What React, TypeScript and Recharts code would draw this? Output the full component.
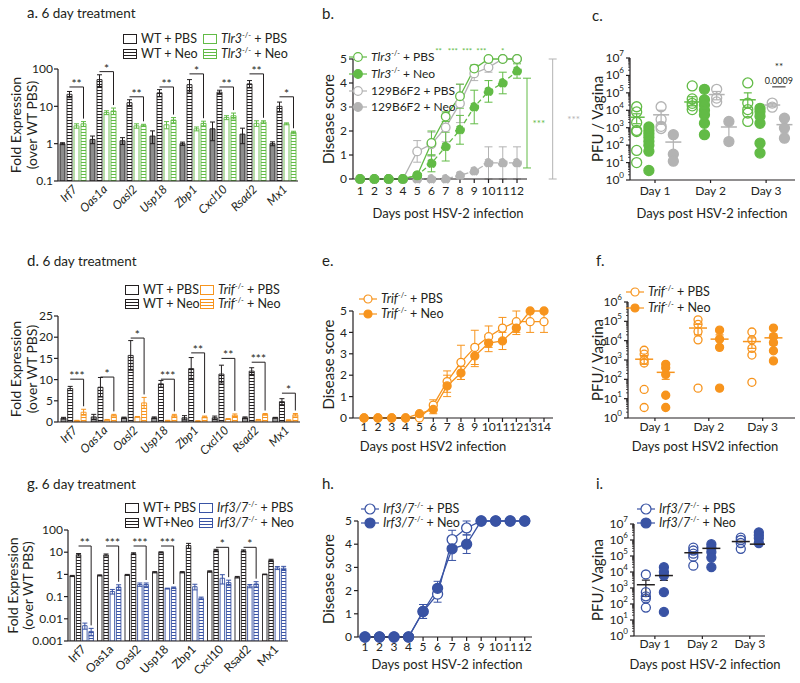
import React from "react";
import {
  BarChart,
  Bar,
  LineChart,
  Line,
  ScatterChart,
  Scatter,
  XAxis,
  YAxis,
  ErrorBar,
  ReferenceLine,
  ReferenceDot,
} from "recharts";

const FONT = "Lato, 'Open Sans', 'DejaVu Sans', sans-serif";
const INK = "#231f20";
const GREEN = "#62bb46";
const GRAY = "#b3b3b3";
const ORANGE = "#f7941d";
const BLUE = "#3953a4";

/* ---------- gene panels (a, d, g) ---------- */
const GENES = ["Irf7", "Oas1a", "Oasl2", "Usp18", "Zbp1", "Cxcl10", "Rsad2", "Mx1"];

// a. Tlr3, log scale
const aWtPbs = [1.0, 1.3, 1.2, 1.6, 1.0, 2.5, 1.8, 1.0];
const aWtPbsErr = [0.06, 0.3, 0.25, 0.6, 0.1, 1.3, 0.8, 0.12];
const aWtNeo = [21, 52, 12.5, 23, 38, 24, 40, 10];
const aWtNeoErr = [4, 18, 2.5, 5, 14, 3, 9, 3];
const aKoPbs = [3.0, 6.8, 3.0, 3.2, 2.5, 5.0, 3.5, 3.4];
const aKoPbsErr = [0.4, 0.8, 0.4, 0.7, 0.3, 0.6, 0.6, 0.2];
const aKoNeo = [3.4, 7.5, 3.1, 4.3, 3.5, 5.6, 3.8, 2.0];
const aKoNeoErr = [0.5, 1.5, 0.2, 0.7, 0.5, 1.0, 0.3, 0.15];
const aSig = ["**", "*", "**", "**", "*", "**", "**", "*"];
const aBracket = [33, 85, 18, 33, 74, 33, 74, 18];

// d. Trif, linear scale
const dWtPbs = [0.9, 1.2, 1.0, 1.0, 1.0, 1.0, 1.0, 1.0];
const dWtPbsErr = [0.2, 0.6, 0.15, 0.2, 0.5, 0.4, 0.2, 0.1];
const dWtNeo = [7.9, 8.2, 15.7, 9.0, 12.6, 11.3, 12.0, 4.8];
const dWtNeoErr = [0.5, 2.3, 3.5, 0.8, 2.6, 2.1, 0.8, 0.7];
const dKoPbs = [0.3, 0.5, 1.2, 0.3, 0.2, 0.7, 0.5, 0.4];
const dKoPbsErr = [0.1, 0.1, 0.1, 0.1, 0.1, 0.1, 0.1, 0.1];
const dKoNeo = [2.3, 1.6, 4.5, 1.5, 1.2, 1.6, 1.8, 1.7];
const dKoNeoErr = [0.7, 0.2, 1.3, 0.3, 0.2, 0.3, 0.2, 0.3];
const dSig = ["***", "*", "*", "***", "**", "**", "***", "*"];
const dBracket = [10.1, 10.6, 19.8, 10.1, 16.3, 15, 14.1, 6.8];

// g. Irf3/7, log scale
const gWtPbs = [0.85, 0.9, 0.95, 1.25, 1.25, 1.35, 0.75, 1.0];
const gWtPbsErr = [0.05, 0.05, 0.05, 0.08, 0.08, 0.1, 0.06, 0.03];
const gWtNeo = [7.7, 7.5, 8.6, 9.8, 20, 12, 11.5, 4.3];
const gWtNeoErr = [1, 0.8, 0.8, 0.6, 5, 1.5, 1.2, 0.5];
const gKoPbs = [0.0049, 0.17, 0.35, 0.23, 0.28, 0.67, 0.3, 1.95];
const gKoPbsErr = [0.0015, 0.04, 0.06, 0.01, 0.08, 0.3, 0.05, 0.3];
const gKoNeo = [0.0027, 0.27, 0.35, 0.25, 0.085, 0.43, 0.37, 1.9];
const gKoNeoErr = [0.001, 0.07, 0.06, 0.02, 0.01, 0.12, 0.1, 0.4];
const gSig = ["**", "***", "***", "***", "", "*", "*", ""];
const gBracket = [19, 19, 19, 19, 0, 16.6, 16.6, 0];

/* ---------- disease score panels (b, e, h) ---------- */
const bDays = [1, 2, 3, 4, 5, 6, 7, 8, 9, 10, 11, 12];
const bKoPbs = [0, 0, 0, 0, 0.15, 1.5, 2.6, 3.45, 4.6, 5, 5, 5];
const bKoPbsErr = [0, 0, 0, 0, 0, 0.5, 0.2, 0.5, 0.15, 0, 0, 0];
const bKoNeo = [0, 0, 0, 0, 0.15, 0.65, 1.35, 2.05, 3.0, 3.65, 4.0, 4.5];
const bKoNeoErr = [0, 0, 0, 0, 0, 0.35, 0.6, 0.6, 0.7, 0.45, 0.45, 0.3];
const bWtPbs = [0, 0, 0, 0, 1.15, 1.45, 2.15, 3.15, 4.4, 4.65, 5, 5];
const bWtPbsErr = [0, 0, 0, 0, 0.45, 0.5, 0.6, 0.8, 0.3, 0.2, 0, 0];
const bWtNeo = [0, 0, 0, 0, 0, 0, 0, 0.15, 0.33, 0.67, 0.67, 0.67];
const bWtNeoErr = [0, 0, 0, 0, 0, 0, 0, 0, 0, 0.67, 0.67, 0.67];
const bSigDays = [6.5, 7.5, 8.5, 9.5, 11];
const bSigText = ["**", "***", "***", "***", "*"];

const eDays = [1, 2, 3, 4, 5, 6, 7, 8, 9, 10, 11, 12, 13, 14];
const eKoPbs = [0, 0, 0, 0, 0, 0.6, 1.7, 2.6, 3.3, 3.8, 4.2, 4.5, 4.5, 4.5];
const eKoPbsErr = [0, 0, 0, 0, 0, 0.25, 0.5, 0.8, 0.8, 0.5, 0.5, 0.5, 0.5, 0.5];
const eKoNeo = [0, 0, 0, 0, 0.2, 0.4, 1.5, 2.1, 2.9, 3.5, 3.6, 4.2, 5, 5];
const eKoNeoErr = [0, 0, 0, 0, 0, 0.2, 0.5, 0.3, 0.5, 0.4, 0.4, 0.3, 0, 0];

const hDays = [1, 2, 3, 4, 5, 6, 7, 8, 9, 10, 11, 12];
const hKoPbs = [0, 0, 0, 0, 1.1, 1.85, 4.2, 4.7, 5, 5, 5, 5];
const hKoPbsErr = [0, 0, 0, 0, 0.3, 0.35, 0.4, 0.3, 0, 0, 0, 0];
const hKoNeo = [0, 0, 0, 0, 1.1, 2.1, 3.8, 4.0, 5, 5, 5, 5];
const hKoNeoErr = [0, 0, 0, 0, 0.3, 0.3, 0.5, 0.4, 0, 0, 0, 0];

/* ---------- PFU panels (c, f, i): one inner list per day ---------- */
const PFU_DAYS = [1, 2, 3];

const cKoPbs = [
  [16000, 8000, 2000, 700, 600, 50, 10],
  [250000, 45000, 25000, 18000, 11000],
  [370000, 26000, 11000, 7000, 2300],
];
const cKoPbsMean = [4000, 30000, 40000];
const cKoPbsLo = [1700, 18000, 15000];
const cKoPbsHi = [6300, 60000, 100000];
const cKoNeo = [
  [1100, 700, 450, 280, 170, 100, 45, 3.5],
  [160000, 40000, 20000, 10000, 5500, 1800, 400],
  [13000, 8500, 4500, 1800, 130, 35],
];
const cWtPbs = [
  [16000, 3000, 1200, 900],
  [160000, 50000, 30000],
  [26000, 15000],
];
const cWtPbsMean = [5500, 80000, 20000];
const cWtPbsLo = [2000, 40000, 16000];
const cWtPbsHi = [10000, 120000, 24000];
const cWtNeo = [
  [400, 30, 12],
  [2300, 160],
  [3500, 950, 250],
];
const cWtNeoMean = [150, 1100, 1500];
const cWtNeoLo = [22, 100, 500];
const cWtNeoHi = [280, 2200, 2600];

const fKoPbs = [
  [3200, 2000, 1000, 700, 30, 3.5],
  [120000, 70000, 30000, 11000, 35],
  [28000, 11000, 4000, 1800, 70],
];
const fKoPbsMean = [1100, 45000, 9000];
const fKoPbsLo = [600, 20000, 4000];
const fKoPbsHi = [1700, 70000, 14000];
const fKoNeo = [
  [600, 400, 180, 15, 3.5],
  [35000, 12000, 4500, 35],
  [45000, 16000, 8000, 3000, 900],
];
const fKoNeoMean = [230, 12000, 14000];
const fKoNeoLo = [100, 4000, 6000];
const fKoNeoHi = [360, 20000, 22000];

const iKoPbs = [
  [7000, 550, 300, 220, 60],
  [330000, 220000, 140000, 90000, 25000],
  [1400000, 1000000, 650000, 280000],
];
const iKoPbsMean = [1600, 160000, 800000];
const iKoPbsLo = [300, 150000, 780000];
const iKoPbsHi = [3100, 170000, 820000];
const iKoNeo = [
  [20000, 10000, 6000, 550, 32],
  [550000, 330000, 180000, 80000, 20000],
  [3000000, 2000000, 1300000, 650000],
];
const iKoNeoMean = [6000, 300000, 550000];
const iKoNeoLo = [3000, 290000, 540000];
const iKoNeoHi = [9500, 310000, 560000];

/* ------------------------------------------------------------------ */
/*  shared bits                                                        */
/* ------------------------------------------------------------------ */
const AX = { stroke: INK, strokeWidth: 1.2 };
const TICK = { fontSize: 12, fill: INK };

const Hatch = ({ id, color }: { id: string; color: string }) => (
  <pattern id={id} width={4} height={3} patternUnits="userSpaceOnUse">
    <rect width={4} height={3} fill="#fff" />
    <rect width={4} height={1} fill={color} />
  </pattern>
);

// rotated y-axis title, one text per line
const yTitle = (lines: string[], xs: number[], size = 14) => (p: any) => {
  const vb = p.viewBox || {};
  const cy = vb.y + vb.height / 2;
  return (
    <g>
      {lines.map((t, i) => (
        <text
          key={i}
          x={xs[i]}
          y={cy}
          transform={`rotate(-90 ${xs[i]} ${cy})`}
          textAnchor="middle"
          dominantBaseline="central"
          fontSize={size}
          fill={INK}
        >
          {t}
        </text>
      ))}
    </g>
  );
};

const xTitle = (text: string, cx: number, y: number) => () => (
  <text x={cx} y={y} textAnchor="middle" fontSize={13} fill={INK}>
    {text}
  </text>
);

const geneTick = (italic: boolean) => (p: any) => {
  const ax = p.x + 5;
  const ay = p.y + 9;
  return (
    <text
      x={ax}
      y={ay}
      textAnchor="end"
      transform={`rotate(-45 ${ax} ${ay})`}
      fontSize={12}
      fontStyle={italic ? "italic" : "normal"}
      fill={INK}
    >
      {p.payload.value}
    </text>
  );
};

// log axis with minor ticks and 10^k labels
const LogTick = (p: any) => {
  const v = p.payload.value;
  const k = Math.round(Math.log10(v));
  const major = Math.abs(Math.log10(v) - k) < 1e-6;
  return (
    <g>
      <line x1={p.x + (major ? 2 : 4)} x2={p.x + 6} y1={p.y} y2={p.y} stroke={INK} strokeWidth={major ? 1.2 : 0.8} />
      {major && (
        <text x={p.x} y={p.y + 4} textAnchor="end" fontSize={12} fill={INK}>
          10
          <tspan dy={-6} fontSize={8}>
            {k}
          </tspan>
        </text>
      )}
    </g>
  );
};

const logTicks = (top: number) => {
  const t: number[] = [];
  for (let k = 0; k < top; k++) for (let m = 1; m < 10; m++) t.push(m * 10 ** k);
  t.push(10 ** top);
  return t;
};

/* ------------------------------------------------------------------ */
/*  bar chart (fold expression)                                        */
/* ------------------------------------------------------------------ */
type BarSeries = { vals: number[]; errs: number[]; fill: string; stroke: string };

interface ExprProps {
  series: BarSeries[];
  hatches: { id: string; color: string }[];
  sig: string[];
  bracket: number[];
  log: boolean;
  domain: [number, number];
  ticks: number[];
  w: number;
  h: number;
  top: number;
  right: number;
  yw: number;
  xh: number;
  barSize: number;
  barGap: number;
  italic: boolean;
  ylx: number[];
}

const ExprChart: React.FC<ExprProps> = (p) => {
  const { series, sig, bracket, log, domain, barGap } = p;
  const rows = GENES.map((gene, i) => {
    const o: any = { gene };
    series.forEach((s, k) => {
      const v = s.vals[i];
      const e = s.errs[i];
      o["v" + k] = v;
      o["e" + k] = log ? [Math.min(e, v * 0.6), e] : e;
    });
    return o;
  });
  const last = series[series.length - 1];
  const lmin = Math.log10(domain[0]);

  /* significance bracket drawn from the last bar's geometry */
  const bracketLabel = (lp: any) => {
    const i = lp.index;
    if (!sig[i]) return null;
    const vb = lp.viewBox || lp;
    const { x, y, width, height } = vb;
    const v = last.vals[i];
    const base = y + height;
    const toY = (t: number) =>
      log ? base - ((Math.log10(t) - lmin) / (Math.log10(v) - lmin)) * height : base - (t / v) * height;
    const yb = toY(bracket[i]);
    const yd = toY(v + last.errs[i]) - 3;
    const xr = x + width / 2;
    const xl = xr - 2 * (width + barGap);
    return (
      <g key={`br-${i}`}>
        <polyline points={`${xl},${yb} ${xr},${yb} ${xr},${yd}`} fill="none" stroke={INK} strokeWidth={1} />
        <text x={(xl + xr) / 2} y={yb + 1} textAnchor="middle" fontSize={12} fill={INK}>
          {sig[i]}
        </text>
      </g>
    );
  };

  return (
    <BarChart
      width={p.w}
      height={p.h}
      data={rows}
      margin={{ top: p.top, right: p.right, bottom: 0, left: 0 }}
      barSize={p.barSize}
      barGap={barGap}
    >
      <defs>
        {p.hatches.map((hh) => (
          <Hatch key={hh.id} id={hh.id} color={hh.color} />
        ))}
      </defs>
      <XAxis
        dataKey="gene"
        interval={0}
        height={p.xh}
        axisLine={AX}
        tickLine={false}
        tickSize={0}
        tickMargin={0}
        tick={geneTick(p.italic)}
      />
      <YAxis
        type="number"
        scale={log ? "log" : "linear"}
        domain={domain}
        ticks={p.ticks}
        interval={0}
        allowDataOverflow
        width={p.yw}
        axisLine={AX}
        tickLine={AX}
        tickSize={4}
        tickMargin={1}
        tick={TICK}
        tickFormatter={(v) => String(v)}
        label={yTitle(["Fold Expression", "(over WT PBS)"], p.ylx, 14)}
      />
      {series.map((s, k) => (
        <Bar
          key={k}
          dataKey={"v" + k}
          fill={s.fill}
          stroke={s.stroke}
          strokeWidth={0.9}
          isAnimationActive={false}
          label={k === series.length - 1 ? bracketLabel : undefined}
        >
          <ErrorBar dataKey={"e" + k} direction="y" width={2.5} stroke={s.stroke} strokeWidth={1} />
        </Bar>
      ))}
    </BarChart>
  );
};

/* ------------------------------------------------------------------ */
/*  line chart (disease score)                                         */
/* ------------------------------------------------------------------ */
type LineSeries = { vals: number[]; errs: number[]; color: string; open: boolean; dashed?: boolean };

interface ScoreProps {
  days: number[];
  series: LineSeries[];
  xDomain: [number, number];
  w: number;
  h: number;
  top: number;
  right: number;
  yw: number;
  xh: number;
  r: number;
  tickGap: number;
  title: string;
  titleX: number;
  titleY: number;
  ylx: number;
  children?: React.ReactNode;
}

const ScoreChart: React.FC<ScoreProps> = (p) => {
  const rows = p.days.map((d, i) => {
    const o: any = { day: d };
    p.series.forEach((s, k) => {
      o["s" + k] = s.vals[i];
      o["e" + k] = s.errs[i] || undefined;
    });
    return o;
  });
  return (
    <LineChart width={p.w} height={p.h} data={rows} margin={{ top: p.top, right: p.right, bottom: 0, left: 0 }}>
      <XAxis
        dataKey="day"
        type="number"
        domain={p.xDomain}
        ticks={p.days}
        interval={0}
        allowDataOverflow
        height={p.xh}
        axisLine={AX}
        tickLine={AX}
        tickSize={4}
        tickMargin={p.tickGap}
        tick={TICK}
        label={xTitle(p.title, p.titleX, p.titleY)}
      />
      <YAxis
        type="number"
        domain={[0, 5]}
        ticks={[0, 1, 2, 3, 4, 5]}
        interval={0}
        width={p.yw}
        axisLine={AX}
        tickLine={AX}
        tickSize={4}
        tickMargin={2}
        tick={TICK}
        label={yTitle(["Disease score"], [p.ylx], 15)}
      />
      {p.series.map((s, k) => (
        <Line
          key={k}
          dataKey={"s" + k}
          stroke={s.color}
          strokeWidth={1.3}
          strokeDasharray={s.dashed ? "5 3" : undefined}
          dot={{ r: p.r, fill: s.open ? "#fff" : s.color, stroke: s.color, strokeWidth: 1.3 }}
          activeDot={false}
          isAnimationActive={false}
        >
          <ErrorBar dataKey={"e" + k} direction="y" width={4} stroke={s.color} strokeWidth={1} />
        </Line>
      ))}
      {p.children}
    </LineChart>
  );
};

/* ------------------------------------------------------------------ */
/*  scatter (PFU / vagina)                                             */
/* ------------------------------------------------------------------ */
type PfuSeries = {
  pts: number[][];
  mean?: number[];
  lo?: number[];
  hi?: number[];
  off: number;
  color: string;
  open: boolean;
  mc: string;
};

interface PfuProps {
  series: PfuSeries[];
  xDomain: [number, number];
  yTop: number;
  w: number;
  h: number;
  top: number;
  right: number;
  yw: number;
  xh: number;
  r: number;
  mw: number;
  tickGap: number;
  ylabel: string;
  ylx: number;
  title: string;
  titleX: number;
  titleY: number;
  children?: React.ReactNode;
}

const PfuChart: React.FC<PfuProps> = (p) => (
  <ScatterChart width={p.w} height={p.h} margin={{ top: p.top, right: p.right, bottom: 0, left: 0 }}>
    <XAxis
      dataKey="x"
      type="number"
      domain={p.xDomain}
      ticks={PFU_DAYS}
      interval={0}
      allowDataOverflow
      height={p.xh}
      axisLine={AX}
      tickLine={AX}
      tickSize={3}
      tickMargin={p.tickGap}
      tick={TICK}
      tickFormatter={(d) => `Day ${d}`}
      label={xTitle(p.title, p.titleX, p.titleY)}
    />
    <YAxis
      dataKey="y"
      type="number"
      scale="log"
      domain={[1, 10 ** p.yTop]}
      ticks={logTicks(p.yTop)}
      interval={0}
      allowDataOverflow
      width={p.yw}
      axisLine={AX}
      tickLine={false}
      tickSize={4}
      tickMargin={2}
      tick={LogTick}
      label={yTitle([p.ylabel], [p.ylx], 15)}
    />
    {p.series.map((s, k) => (
      <Scatter
        key={"p" + k}
        data={s.pts.flatMap((arr, d) => arr.map((v) => ({ x: PFU_DAYS[d] + s.off, y: v })))}
        isAnimationActive={false}
        shape={(sp: any) => (
          <circle
            cx={sp.cx}
            cy={sp.cy}
            r={p.r}
            fill={s.open ? "none" : s.color}
            stroke={s.color}
            strokeWidth={1.3}
          />
        )}
      />
    ))}
    {p.series.map((s, k) =>
      s.mean ? (
        <Scatter
          key={"m" + k}
          data={s.mean.map((m, d) => ({
            x: PFU_DAYS[d] + s.off,
            y: m,
            err: s.lo && s.hi ? [m - s.lo[d], s.hi[d] - m] : undefined,
          }))}
          isAnimationActive={false}
          shape={(sp: any) => (
            <line x1={sp.cx - p.mw} x2={sp.cx + p.mw} y1={sp.cy} y2={sp.cy} stroke={s.mc} strokeWidth={1.5} />
          )}
        >
          <ErrorBar dataKey="err" direction="y" width={4} stroke={s.mc} strokeWidth={1.2} />
        </Scatter>
      ) : null
    )}
    {p.children}
  </ScatterChart>
);

/* ------------------------------------------------------------------ */
/*  html legends / titles                                              */
/* ------------------------------------------------------------------ */
const Geno = ({ name, sup = "-/-" }: { name: string; sup?: string }) => (
  <>
    <i>{name}</i>
    <sup style={{ fontSize: "0.6em", lineHeight: 0 }}>{sup}</sup>
  </>
);

const Swatch = ({ color, hatchId }: { color: string; hatchId?: string }) => (
  <svg width={14} height={10} style={{ display: "block" }}>
    {hatchId && (
      <defs>
        <Hatch id={hatchId} color={color} />
      </defs>
    )}
    <rect x={0.5} y={0.5} width={13} height={9} fill={hatchId ? `url(#${hatchId})` : "#fff"} stroke={color} />
  </svg>
);

const Marker = ({ color, open, r, w = 18 }: { color: string; open: boolean; r: number; w?: number }) => (
  <svg width={w} height={12} style={{ display: "block" }}>
    <line x1={0} x2={w} y1={6} y2={6} stroke={color} strokeWidth={1.2} />
    <circle cx={w / 2} cy={6} r={r} fill={open ? "#fff" : color} stroke={color} strokeWidth={1.2} />
  </svg>
);

const Key = ({
  x,
  y,
  icon,
  size = 12.5,
  children,
}: {
  x: number;
  y: number;
  icon: React.ReactNode;
  size?: number;
  children: React.ReactNode;
}) => (
  <div
    style={{
      position: "absolute",
      left: x,
      top: y - 7,
      height: 14,
      display: "flex",
      alignItems: "center",
      gap: 4,
      fontSize: size,
      lineHeight: "14px",
      color: INK,
      whiteSpace: "nowrap",
    }}
  >
    {icon}
    <span>{children}</span>
  </div>
);

const Title = ({ x, y, letter, text }: { x: number; y: number; letter: string; text?: string }) => (
  <div style={{ position: "absolute", left: x, top: y - 9, fontSize: 15, lineHeight: "18px", color: INK }}>
    {letter}
    {text && <span style={{ fontSize: 13.5 }}> {text}</span>}
  </div>
);

const Place = ({ x, y, children }: { x: number; y: number; children: React.ReactNode }) => (
  <div style={{ position: "absolute", left: x, top: y }}>{children}</div>
);

const Bracket = (color: string, textDx: number) => (sp: any) => (
  <g>
    <line x1={sp.x1} x2={sp.x2} y1={sp.y1} y2={sp.y2} stroke={color} strokeWidth={1} />
    <line x1={sp.x1 - 4} x2={sp.x1 + 4} y1={sp.y1} y2={sp.y1} stroke={color} strokeWidth={1} />
    <line x1={sp.x2 - 4} x2={sp.x2 + 4} y1={sp.y2} y2={sp.y2} stroke={color} strokeWidth={1} />
    <text x={sp.x1 + textDx} y={(sp.y1 + sp.y2) / 2 + 4} textAnchor="middle" fontSize={10} fill={color}>
      ***
    </text>
  </g>
);

/* ------------------------------------------------------------------ */
export default function App() {
  return (
    <div
      style={{
        position: "absolute",
        left: 0,
        top: 0,
        width: 800,
        height: 683,
        background: "#fff",
        fontFamily: FONT,
        overflow: "hidden",
      }}
    >
      {/* ---------------- row 1 ---------------- */}
      <Title x={27} y={12} letter="a." text="6 day treatment" />
      <Key x={123} y={39} icon={<Swatch color={INK} />}>WT + PBS</Key>
      <Key x={123} y={54} icon={<Swatch color={INK} hatchId="ka1" />}>WT + Neo</Key>
      <Key x={203} y={39} icon={<Swatch color={GREEN} />}>
        <Geno name="Tlr3" /> + PBS
      </Key>
      <Key x={203} y={54} icon={<Swatch color={GREEN} hatchId="ka2" />}>
        <Geno name="Tlr3" /> + Neo
      </Key>
      <Place x={0} y={60}>
        <ExprChart
          series={[
            { vals: aWtPbs, errs: aWtPbsErr, fill: "#8c8c8c", stroke: INK },
            { vals: aWtNeo, errs: aWtNeoErr, fill: "url(#ha1)", stroke: INK },
            { vals: aKoPbs, errs: aKoPbsErr, fill: "#fff", stroke: GREEN },
            { vals: aKoNeo, errs: aKoNeoErr, fill: "url(#ha2)", stroke: GREEN },
          ]}
          hatches={[
            { id: "ha1", color: INK },
            { id: "ha2", color: GREEN },
          ]}
          sig={aSig}
          bracket={aBracket}
          log
          domain={[0.1, 100]}
          ticks={[0.1, 1, 10, 100]}
          w={305}
          h={160}
          top={9}
          right={7}
          yw={58}
          xh={39}
          barSize={5}
          barGap={2}
          italic
          ylx={[15, 31]}
        />
      </Place>

      <Title x={322} y={13} letter="b." />
      <Place x={290} y={40}>
        <ScoreChart
          days={bDays}
          series={[
            { vals: bWtPbs, errs: bWtPbsErr, color: GRAY, open: true },
            { vals: bWtNeo, errs: bWtNeoErr, color: GRAY, open: false, dashed: true },
            { vals: bKoPbs, errs: bKoPbsErr, color: GREEN, open: true },
            { vals: bKoNeo, errs: bKoNeoErr, color: GREEN, open: false, dashed: true },
          ]}
          xDomain={[0.5, 12.7]}
          w={290}
          h={185}
          top={19}
          right={53}
          yw={63}
          xh={46}
          r={4.3}
          tickGap={3}
          title="Days post HSV-2 infection"
          titleX={158}
          titleY={178}
          ylx={38}
        >
          {bSigDays.map((d, i) => (
            <ReferenceDot
              key={i}
              x={d}
              y={5}
              r={0}
              ifOverflow="visible"
              label={{ value: bSigText[i], position: "top", fill: GREEN, fontSize: 8, offset: 5 }}
            />
          ))}
          <ReferenceLine
            segment={[
              { x: 12.7, y: 4.2 },
              { x: 12.7, y: 0.46 },
            ]}
            ifOverflow="visible"
            shape={Bracket(GREEN, 12)}
          />
          <ReferenceLine
            segment={[
              { x: 14.5, y: 5 },
              { x: 14.5, y: 0 },
            ]}
            ifOverflow="visible"
            shape={Bracket(GRAY, 21)}
          />
        </ScoreChart>
      </Place>
      <Key x={349} y={57} size={12} icon={<Marker color={GREEN} open r={4.3} />}>
        <Geno name="Tlr3" /> + PBS
      </Key>
      <Key x={349} y={74} size={12} icon={<Marker color={GREEN} open={false} r={4.3} />}>
        <Geno name="Tlr3" /> + Neo
      </Key>
      <Key x={349} y={91} size={12} icon={<Marker color={GRAY} open r={4.3} />}>
        129B6F2 + PBS
      </Key>
      <Key x={349} y={107} size={12} icon={<Marker color={GRAY} open={false} r={4.3} />}>
        129B6F2 + Neo
      </Key>

      <Title x={592} y={15} letter="c." />
      <Place x={555} y={40}>
        <PfuChart
          series={[
            { pts: cKoPbs, mean: cKoPbsMean, lo: cKoPbsLo, hi: cKoPbsHi, off: -0.33, color: GREEN, open: true, mc: GREEN },
            { pts: cKoNeo, off: -0.11, color: GREEN, open: false, mc: GREEN },
            { pts: cWtPbs, mean: cWtPbsMean, lo: cWtPbsLo, hi: cWtPbsHi, off: 0.11, color: GRAY, open: true, mc: GRAY },
            { pts: cWtNeo, mean: cWtNeoMean, lo: cWtNeoLo, hi: cWtNeoHi, off: 0.33, color: GRAY, open: false, mc: GRAY },
          ]}
          xDomain={[0.55, 3.52]}
          yTop={7}
          w={245}
          h={185}
          top={18}
          right={5}
          yw={75}
          xh={45}
          r={5}
          mw={8}
          tickGap={3}
          ylabel="PFU / Vagina"
          ylx={42}
          title="Days post HSV-2 infection"
          titleX={157}
          titleY={178}
        >
          <ReferenceLine
            segment={[
              { x: 3.11, y: 220000 },
              { x: 3.35, y: 220000 },
            ]}
            ifOverflow="visible"
            shape={(sp: any) => (
              <g>
                <line x1={sp.x1} x2={sp.x2} y1={sp.y1} y2={sp.y2} stroke={INK} strokeWidth={1} />
                <text x={(sp.x1 + sp.x2) / 2} y={sp.y1 - 3} textAnchor="middle" fontSize={9} fill={INK}>
                  0.0009
                </text>
                <text x={(sp.x1 + sp.x2) / 2} y={sp.y1 - 17} textAnchor="middle" fontSize={10} fill={INK}>
                  **
                </text>
              </g>
            )}
          />
        </PfuChart>
      </Place>

      {/* ---------------- row 2 ---------------- */}
      <Title x={27} y={260} letter="d." text="6 day treatment" />
      <Key x={125} y={290} icon={<Swatch color={INK} />}>WT + PBS</Key>
      <Key x={125} y={304} icon={<Swatch color={INK} hatchId="kd1" />}>WT + Neo</Key>
      <Key x={200} y={290} icon={<Swatch color={ORANGE} />}>
        <Geno name="Trif" /> + PBS
      </Key>
      <Key x={200} y={304} icon={<Swatch color={ORANGE} hatchId="kd2" />}>
        <Geno name="Trif" /> + Neo
      </Key>
      <Place x={0} y={300}>
        <ExprChart
          series={[
            { vals: dWtPbs, errs: dWtPbsErr, fill: "#9a9a9a", stroke: INK },
            { vals: dWtNeo, errs: dWtNeoErr, fill: "url(#hd1)", stroke: INK },
            { vals: dKoPbs, errs: dKoPbsErr, fill: "#fff", stroke: ORANGE },
            { vals: dKoNeo, errs: dKoNeoErr, fill: "url(#hd2)", stroke: ORANGE },
          ]}
          hatches={[
            { id: "hd1", color: INK },
            { id: "hd2", color: ORANGE },
          ]}
          sig={dSig}
          bracket={dBracket}
          log={false}
          domain={[0, 25]}
          ticks={[0, 5, 10, 15, 20, 25]}
          w={305}
          h={160}
          top={16}
          right={5}
          yw={58}
          xh={38}
          barSize={5}
          barGap={1.7}
          italic
          ylx={[15, 31]}
        />
      </Place>

      <Title x={322} y={260} letter="e." />
      <Place x={290} y={290}>
        <ScoreChart
          days={eDays}
          series={[
            { vals: eKoPbs, errs: eKoPbsErr, color: ORANGE, open: true },
            { vals: eKoNeo, errs: eKoNeoErr, color: ORANGE, open: false },
          ]}
          xDomain={[0.2, 14.65]}
          w={290}
          h={170}
          top={21}
          right={27}
          yw={63}
          xh={42}
          r={4}
          tickGap={0}
          title="Days post HSV2 infection"
          titleX={143}
          titleY={161}
          ylx={38}
        />
      </Place>
      <Key x={359} y={299} icon={<Marker color={ORANGE} open r={4} />}>
        <Geno name="Trif" /> + PBS
      </Key>
      <Key x={359} y={314} icon={<Marker color={ORANGE} open={false} r={4} />}>
        <Geno name="Trif" /> + Neo
      </Key>

      <Title x={596} y={260} letter="f." />
      <Place x={555} y={285}>
        <PfuChart
          series={[
            { pts: fKoPbs, mean: fKoPbsMean, lo: fKoPbsLo, hi: fKoPbsHi, off: -0.2, color: ORANGE, open: true, mc: ORANGE },
            { pts: fKoNeo, mean: fKoNeoMean, lo: fKoNeoLo, hi: fKoNeoHi, off: 0.2, color: ORANGE, open: false, mc: ORANGE },
          ]}
          xDomain={[0.5, 3.6]}
          yTop={6}
          w={245}
          h={175}
          top={17}
          right={5}
          yw={73}
          xh={42}
          r={4}
          mw={9}
          tickGap={1}
          ylabel="PFU/ Vagina"
          ylx={42}
          title="Days post HSV2 infection"
          titleX={150}
          titleY={166}
        />
      </Place>
      <Key x={626} y={292} icon={<Marker color={ORANGE} open r={4} />}>
        <Geno name="Trif" /> + PBS
      </Key>
      <Key x={626} y={308} icon={<Marker color={ORANGE} open={false} r={4} />}>
        <Geno name="Trif" /> + Neo
      </Key>

      {/* ---------------- row 3 ---------------- */}
      <Title x={27} y={483} letter="g." text="6 day treatment" />
      <Key x={125} y={508} icon={<Swatch color={INK} />}>WT+ PBS</Key>
      <Key x={125} y={523} icon={<Swatch color={INK} hatchId="kg1" />}>WT+Neo</Key>
      <Key x={199} y={508} icon={<Swatch color={BLUE} />}>
        <Geno name="Irf3/7" /> + PBS
      </Key>
      <Key x={199} y={523} icon={<Swatch color={BLUE} hatchId="kg2" />}>
        <Geno name="Irf3/7" /> + Neo
      </Key>
      <Place x={0} y={515}>
        <ExprChart
          series={[
            { vals: gWtPbs, errs: gWtPbsErr, fill: "#fff", stroke: INK },
            { vals: gWtNeo, errs: gWtNeoErr, fill: "url(#hg1)", stroke: INK },
            { vals: gKoPbs, errs: gKoPbsErr, fill: "#fff", stroke: BLUE },
            { vals: gKoNeo, errs: gKoNeoErr, fill: "url(#hg2)", stroke: BLUE },
          ]}
          hatches={[
            { id: "hg1", color: INK },
            { id: "hg2", color: BLUE },
          ]}
          sig={gSig}
          bracket={gBracket}
          log
          domain={[0.001, 100]}
          ticks={[0.001, 0.01, 0.1, 1, 10, 100]}
          w={300}
          h={168}
          top={15}
          right={12}
          yw={68}
          xh={42}
          barSize={4.5}
          barGap={1.8}
          italic={false}
          ylx={[12, 27]}
        />
      </Place>

      <Title x={322} y={483} letter="h." />
      <Place x={290} y={505}>
        <ScoreChart
          days={hDays}
          series={[
            { vals: hKoPbs, errs: hKoPbsErr, color: BLUE, open: true },
            { vals: hKoNeo, errs: hKoNeoErr, color: BLUE, open: false },
          ]}
          xDomain={[0.52, 12.5]}
          w={290}
          h={178}
          top={16}
          right={48}
          yw={68}
          xh={46}
          r={5}
          tickGap={1}
          title="Days post HSV-2 infection"
          titleX={157}
          titleY={164}
          ylx={38}
        />
      </Place>
      <Key x={361} y={509} icon={<Marker color={BLUE} open r={5} />}>
        <Geno name="Irf3/7" /> + PBS
      </Key>
      <Key x={361} y={523} icon={<Marker color={BLUE} open={false} r={5} />}>
        <Geno name="Irf3/7" /> + Neo
      </Key>

      <Title x={596} y={483} letter="i." />
      <Place x={555} y={505}>
        <PfuChart
          series={[
            { pts: iKoPbs, mean: iKoPbsMean, lo: iKoPbsLo, hi: iKoPbsHi, off: -0.19, color: BLUE, open: true, mc: INK },
            { pts: iKoNeo, mean: iKoNeoMean, lo: iKoNeoLo, hi: iKoNeoHi, off: 0.19, color: BLUE, open: false, mc: INK },
          ]}
          xDomain={[0.56, 3.32]}
          yTop={7}
          w={245}
          h={178}
          top={19}
          right={35}
          yw={79}
          xh={47}
          r={4.5}
          mw={9}
          tickGap={0}
          ylabel="PFU/ Vagina"
          ylx={42}
          title="Days post HSV-2 infection"
          titleX={150}
          titleY={164}
        />
      </Place>
      <Key x={637} y={509} icon={<Marker color={BLUE} open r={5} />}>
        <Geno name="Irf3/7" /> + PBS
      </Key>
      <Key x={637} y={523} icon={<Marker color={BLUE} open={false} r={5} />}>
        <Geno name="Irf3/7" /> + Neo
      </Key>
    </div>
  );
}
